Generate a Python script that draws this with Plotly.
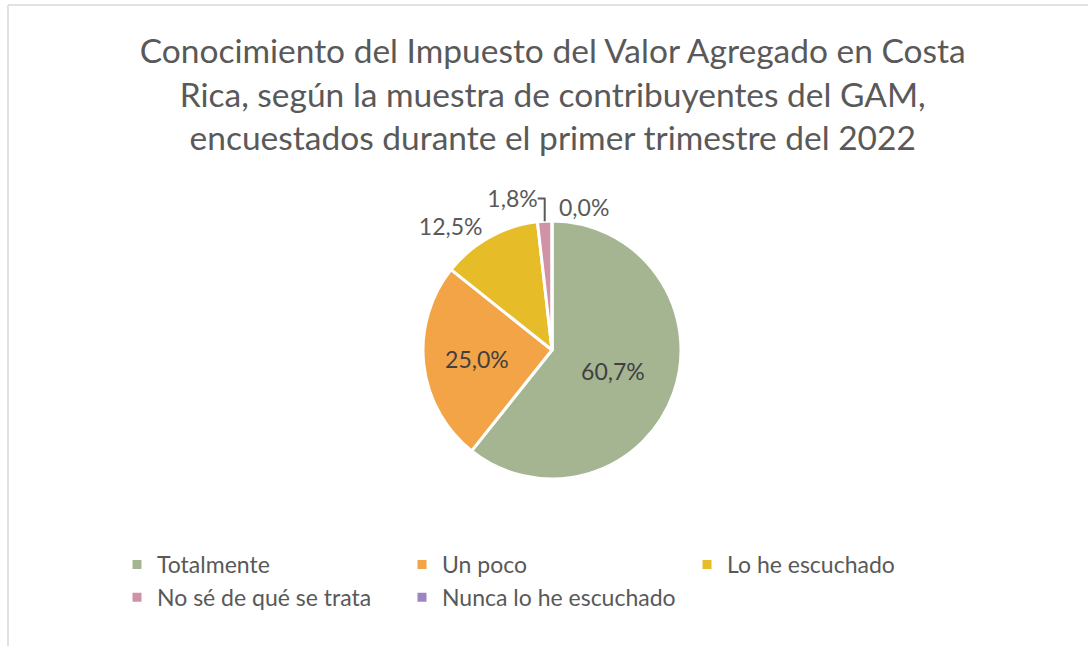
import plotly.graph_objects as go

categories = ["Totalmente", "Un poco", "Lo he escuchado", "No sé de qué se trata", "Nunca lo he escuchado"]
values = [60.7, 25.0, 12.5, 1.8, 0.0]
colors = ["#A5B592", "#F3A447", "#E7BC29", "#D092A7", "#9C85C0"]
positions = ["inside", "inside", "outside", "outside", "outside"]

W, H = 1088, 646
text = [f"{v:.1f}%".replace(".", ",") for v in values]

cx, cy, r = 552, 350, 129

fig = go.Figure(go.Pie(
    labels=categories,
    values=values,
    text=text,
    textinfo="text",
    textposition=positions,
    sort=False,
    direction="clockwise",
    rotation=0,
    marker=dict(colors=colors, line=dict(color="white", width=3)),
    insidetextfont=dict(color="#404040", size=23, family="Lato"),
    outsidetextfont=dict(color="#595959", size=23, family="Lato"),
    domain=dict(x=[(cx - r) / W, (cx + r) / W], y=[1 - (cy + r) / H, 1 - (cy - r) / H]),
    showlegend=True,
))

fig.update_layout(
    width=W, height=H,
    margin=dict(l=0, r=0, t=0, b=0),
    paper_bgcolor="white",
    font=dict(family="Lato", color="#595959"),
    title=dict(
        text="Conocimiento del Impuesto del Valor Agregado en Costa<br>Rica, según la muestra de contribuyentes del GAM,<br>encuestados durante el primer trimestre del 2022",
        x=0.508, xanchor="center", y=1 - 63 / H, yanchor="top", yref="container",
        font=dict(size=33.5, family="Lato", color="#595959"),
    ),
    legend=dict(
        orientation="h", x=117 / W, xanchor="left", y=1 - 543 / H, yanchor="top",
        font=dict(size=23, family="Lato", color="#595959"),
        entrywidth=240, entrywidthmode="pixels",
        traceorder="normal", bgcolor="rgba(0,0,0,0)",
    ),
    shapes=[
        dict(type="line", xref="paper", yref="paper", x0=8 / W, x1=1, y0=1 - 5 / H, y1=1 - 5 / H,
             line=dict(color="#D9D9D9", width=1.5)),
        dict(type="line", xref="paper", yref="paper", x0=8 / W, x1=8 / W, y0=0, y1=1 - 5 / H,
             line=dict(color="#D9D9D9", width=1.5)),
    ],
)

fig.write_html("out.html", config={"displayModeBar": False},
               post_script="document.body.style.margin='0';document.body.style.overflow='hidden';")
